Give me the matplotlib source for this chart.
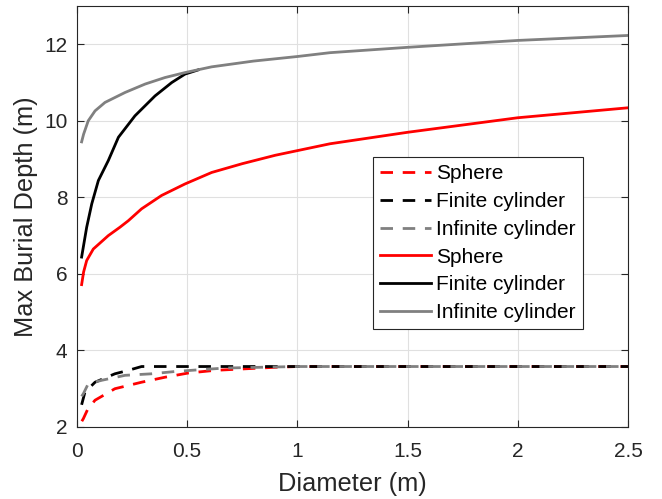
import matplotlib
matplotlib.use("Agg")
import matplotlib.pyplot as plt

plt.rcParams['font.family'] = ['Liberation Sans', 'DejaVu Sans']

# Dashed series
x_sph_d = [0.022, 0.029, 0.05, 0.082, 0.172, 0.293, 0.399, 0.505, 0.626, 0.762, 0.9, 1.0, 1.5, 2.0, 2.5]
y_sph_d = [2.15, 2.22, 2.48, 2.70, 3.00, 3.17, 3.30, 3.41, 3.48, 3.52, 3.56, 3.58, 3.58, 3.58, 3.58]
x_fin_d = [0.021, 0.036, 0.082, 0.172, 0.233, 0.293, 0.5, 1.0, 1.5, 2.0, 2.5]
y_fin_d = [2.58, 2.91, 3.17, 3.39, 3.48, 3.58, 3.58, 3.58, 3.58, 3.58, 3.58]
x_inf_d = [0.021, 0.029, 0.051, 0.112, 0.218, 0.339, 0.445, 0.566, 0.672, 0.83, 1.0, 1.5, 2.0, 2.5]
y_inf_d = [2.80, 2.87, 3.13, 3.22, 3.35, 3.39, 3.45, 3.50, 3.54, 3.56, 3.58, 3.58, 3.58, 3.58]

# Solid series
x_sph_s = [0.021, 0.03, 0.044, 0.074, 0.142, 0.195, 0.233, 0.293, 0.384, 0.49, 0.611, 0.75, 0.9, 1.148, 1.5, 2.0, 2.5]
y_sph_s = [5.72, 6.05, 6.35, 6.65, 7.00, 7.22, 7.39, 7.70, 8.05, 8.35, 8.65, 8.88, 9.10, 9.40, 9.70, 10.08, 10.34]
x_fin_s = [0.021, 0.044, 0.067, 0.097, 0.142, 0.188, 0.263, 0.354, 0.43, 0.49, 0.55]
y_fin_s = [6.44, 7.22, 7.83, 8.44, 8.96, 9.57, 10.13, 10.65, 11.00, 11.22, 11.33]
x_inf_s = [0.021, 0.03, 0.051, 0.082, 0.127, 0.218, 0.309, 0.399, 0.49, 0.611, 0.8, 1.0, 1.148, 1.5, 2.0, 2.5]
y_inf_s = [9.45, 9.65, 10.00, 10.26, 10.48, 10.74, 10.96, 11.13, 11.26, 11.41, 11.56, 11.68, 11.78, 11.92, 12.10, 12.23]

labels = ['Sphere', 'Finite cylinder', 'Infinite cylinder']
colors = ['#ff0000', '#000000', '#808080']

fig = plt.figure(figsize=(6.62, 4.99), dpi=100)
ax = fig.add_axes([0.1163, 0.1443, 0.8323, 0.8437])

lw = 2.0
dashed = [(x_sph_d, y_sph_d), (x_fin_d, y_fin_d), (x_inf_d, y_inf_d)]
solid = [(x_sph_s, y_sph_s), (x_fin_s, y_fin_s), (x_inf_s, y_inf_s)]
for (x, y), c, l in zip(dashed, colors, labels):
    ax.plot(x, y, color=c, lw=lw, ls=(0, (4.5, 3.5)), label=l)
for (x, y), c, l in zip(solid, colors, labels):
    ax.plot(x, y, color=c, lw=lw, ls='-', label=l)

ax.set_xlim(0, 2.5)
ax.set_ylim(2, 13)
ax.set_xticks([0, 0.5, 1, 1.5, 2, 2.5])
ax.set_xticklabels(['0', '0.5', '1', '1.5', '2', '2.5'])
ax.set_yticks([2, 4, 6, 8, 10, 12])
ax.grid(True, color='#e0e0e0', lw=0.8)
ax.set_axisbelow(True)
for s in ax.spines.values():
    s.set_color('#262626')
    s.set_linewidth(0.8)
ax.tick_params(direction='in', top=True, right=True, length=5, width=0.8,
               colors='#262626', labelsize=15)
ax.tick_params(axis='x', pad=11)
ax.tick_params(axis='y', pad=7)
ax.set_xlabel('Diameter (m)', fontsize=18.3, color='#262626', labelpad=8)
ax.set_ylabel('Max Burial Depth (m)', fontsize=18.3, color='#262626', labelpad=4)

leg = ax.legend(loc='upper left', bbox_to_anchor=(0.537, 0.641), fontsize=15,
                frameon=True, fancybox=False, edgecolor='#262626', framealpha=1,
                handlelength=2.45, handletextpad=0.25, borderpad=0.35,
                labelspacing=0.42, borderaxespad=0)
leg.get_frame().set_linewidth(0.8)

fig.savefig('out.png', dpi=100)
